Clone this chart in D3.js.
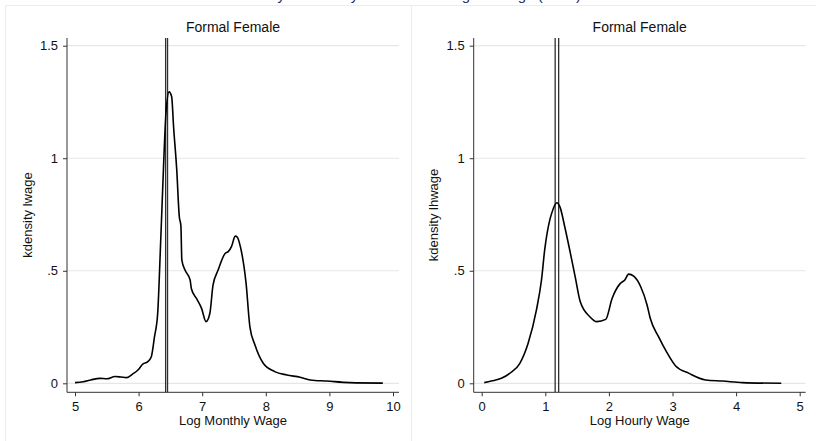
<!DOCTYPE html>
<html>
<head>
<meta charset="utf-8">
<script src="https://cdn.jsdelivr.net/npm/d3@7"></script>
<style>
  html, body { margin: 0; padding: 0; background: #ffffff; }
  svg { display: block; font-family: "Liberation Sans", Arial, sans-serif; }
</style>
</head>
<body>
<script>
// ---- data ----
const mainTitle = "Density of Monthly Income and Log Earnings (2010)";
const panelTitles = ["Formal Female", "Formal Female"];
const xTitles = ["Log Monthly Wage", "Log Hourly Wage"];
const yTitles = ["kdensity lwage", "kdensity lhwage"];

const yTickValues = [0, 0.5, 1, 1.5];
const yTickLabels = ["0", ".5", "1", "1.5"];
const monthlyTicks = [5, 6, 7, 8, 9, 10];
const hourlyTicks = [0, 1, 2, 3, 4, 5];

const monthlyX = [5.0, 5.13, 5.25, 5.39, 5.5, 5.63, 5.72, 5.81, 5.9, 5.99, 6.07, 6.14, 6.2, 6.25, 6.3, 6.34, 6.36, 6.39, 6.43, 6.48, 6.52, 6.55, 6.6, 6.64, 6.665, 6.68, 6.73, 6.81, 6.83, 6.91, 6.99, 7.06, 7.12, 7.17, 7.25, 7.36, 7.41, 7.46, 7.52, 7.55, 7.6, 7.69, 7.75, 7.83, 7.96, 8.14, 8.33, 8.54, 8.7, 8.96, 9.32, 9.84];
const monthlyY = [0.003, 0.007, 0.015, 0.022, 0.02, 0.03, 0.028, 0.025, 0.04, 0.059, 0.086, 0.095, 0.118, 0.207, 0.31, 0.577, 0.725, 0.947, 1.2, 1.295, 1.273, 1.14, 0.947, 0.74, 0.70, 0.547, 0.503, 0.459, 0.42, 0.377, 0.333, 0.274, 0.31, 0.436, 0.503, 0.577, 0.585, 0.607, 0.654, 0.65, 0.607, 0.444, 0.251, 0.17, 0.089, 0.052, 0.037, 0.027, 0.015, 0.01, 0.003, 0.001];

const hourlyX = [0.04, 0.15, 0.31, 0.44, 0.6, 0.73, 0.86, 0.94, 0.99, 1.07, 1.1, 1.18, 1.23, 1.31, 1.39, 1.47, 1.55, 1.7, 1.81, 1.95, 2.05, 2.18, 2.25, 2.31, 2.39, 2.5, 2.6, 2.65, 2.78, 2.92, 3.05, 3.26, 3.52, 3.79, 4.1, 4.71];
const hourlyY = [0.003, 0.01, 0.022, 0.044, 0.089, 0.178, 0.325, 0.459, 0.592, 0.725, 0.755, 0.802, 0.784, 0.69, 0.584, 0.473, 0.362, 0.296, 0.274, 0.284, 0.377, 0.444, 0.459, 0.485, 0.476, 0.429, 0.348, 0.289, 0.207, 0.133, 0.077, 0.044, 0.015, 0.01, 0.003, 0.0];

const monthlyRefLines = [6.425, 6.455];
const hourlyRefLines = [1.155, 1.21];

// ---- layout ----
const W = 816, H = 441;
const svg = d3.select("body").append("svg").attr("width", W).attr("height", H);

svg.append("text")
  .attr("x", 408).attr("y", 0)
  .attr("text-anchor", "middle")
  .attr("font-size", 15)
  .attr("fill", "#1c2d5e")
  .text(mainTitle);

const panels = [
  { ox: 0, xDomain: [5, 10], ticks: monthlyTicks, xs: monthlyX, ys: monthlyY, refs: monthlyRefLines, idx: 0 },
  { ox: 406.7, xDomain: [0, 5], ticks: hourlyTicks, xs: hourlyX, ys: hourlyY, refs: hourlyRefLines, idx: 1 }
];

const panelBox = { x0: 5.5, x1: 411.5, y0: 5.5 };

panels.forEach(p => {
  const g = svg.append("g").attr("transform", `translate(${p.ox},0)`);

  // panel frame
  g.append("rect")
    .attr("x", p.idx === 0 ? panelBox.x0 : panelBox.x1 - p.ox)
    .attr("y", panelBox.y0)
    .attr("width", p.idx === 0 ? panelBox.x1 - panelBox.x0 : W + 5 - panelBox.x1)
    .attr("height", H + 10)
    .attr("fill", "#ffffff")
    .attr("stroke", "#ececec")
    .attr("stroke-width", 1);

  const axisX = 67, axisRight = 399, plotTop = 38, axisY = 392.3;
  const x = d3.scaleLinear().domain(p.xDomain).range([75, 393]);
  const y = d3.scaleLinear().domain([0, 1.5]).range([383.3, 45.7]);

  // gridlines
  g.append("g").selectAll("line").data(yTickValues).join("line")
    .attr("x1", axisX).attr("x2", axisRight)
    .attr("y1", d => y(d)).attr("y2", d => y(d))
    .attr("stroke", "#e6e6e6").attr("stroke-width", 1.2);

  // reference lines
  g.append("g").selectAll("line").data(p.refs).join("line")
    .attr("x1", d => x(d)).attr("x2", d => x(d))
    .attr("y1", plotTop).attr("y2", axisY)
    .attr("stroke", "#303030").attr("stroke-width", 1.3);

  // density curve
  const pts = p.xs.map((v, i) => [v, p.ys[i]]);
  g.append("path")
    .datum(pts)
    .attr("fill", "none")
    .attr("stroke", "#000000")
    .attr("stroke-width", 1.6)
    .attr("stroke-linejoin", "round")
    .attr("d", d3.line().curve(d3.curveMonotoneX).x(d => x(d[0])).y(d => y(d[1])));

  // y axis
  const yAxis = d3.axisLeft(y).tickValues(yTickValues)
    .tickFormat((d, i) => yTickLabels[i]).tickSize(4).tickPadding(5);
  const ya = g.append("g").attr("transform", `translate(${axisX},0)`).call(yAxis);
  ya.select(".domain").remove();
  ya.selectAll("line").attr("stroke", "#333");
  ya.selectAll("text").attr("font-size", 13).attr("fill", "#111")
    .attr("font-family", "Liberation Sans, Arial, sans-serif");
  g.append("line").attr("x1", axisX).attr("x2", axisX).attr("y1", plotTop).attr("y2", axisY)
    .attr("stroke", "#333").attr("stroke-width", 1);

  // x axis
  const xAxis = d3.axisBottom(x).tickValues(p.ticks).tickFormat(d3.format("d")).tickSize(4).tickPadding(5);
  const xa = g.append("g").attr("transform", `translate(0,${axisY})`).call(xAxis);
  xa.select(".domain").remove();
  xa.selectAll("line").attr("stroke", "#333");
  xa.selectAll("text").attr("font-size", 13).attr("fill", "#111")
    .attr("font-family", "Liberation Sans, Arial, sans-serif");
  g.append("line").attr("x1", axisX).attr("x2", axisRight).attr("y1", axisY).attr("y2", axisY)
    .attr("stroke", "#333").attr("stroke-width", 1);

  // titles
  g.append("text").attr("x", 233).attr("y", 32).attr("text-anchor", "middle")
    .attr("font-size", 14).attr("fill", "#111").text(panelTitles[p.idx]);
  g.append("text").attr("x", 233).attr("y", 425).attr("text-anchor", "middle")
    .attr("font-size", 13).attr("fill", "#111").text(xTitles[p.idx]);
  g.append("text")
    .attr("transform", `translate(31.5,215) rotate(-90)`)
    .attr("text-anchor", "middle")
    .attr("font-size", 13).attr("fill", "#111").text(yTitles[p.idx]);
});
</script>
</body>
</html>
